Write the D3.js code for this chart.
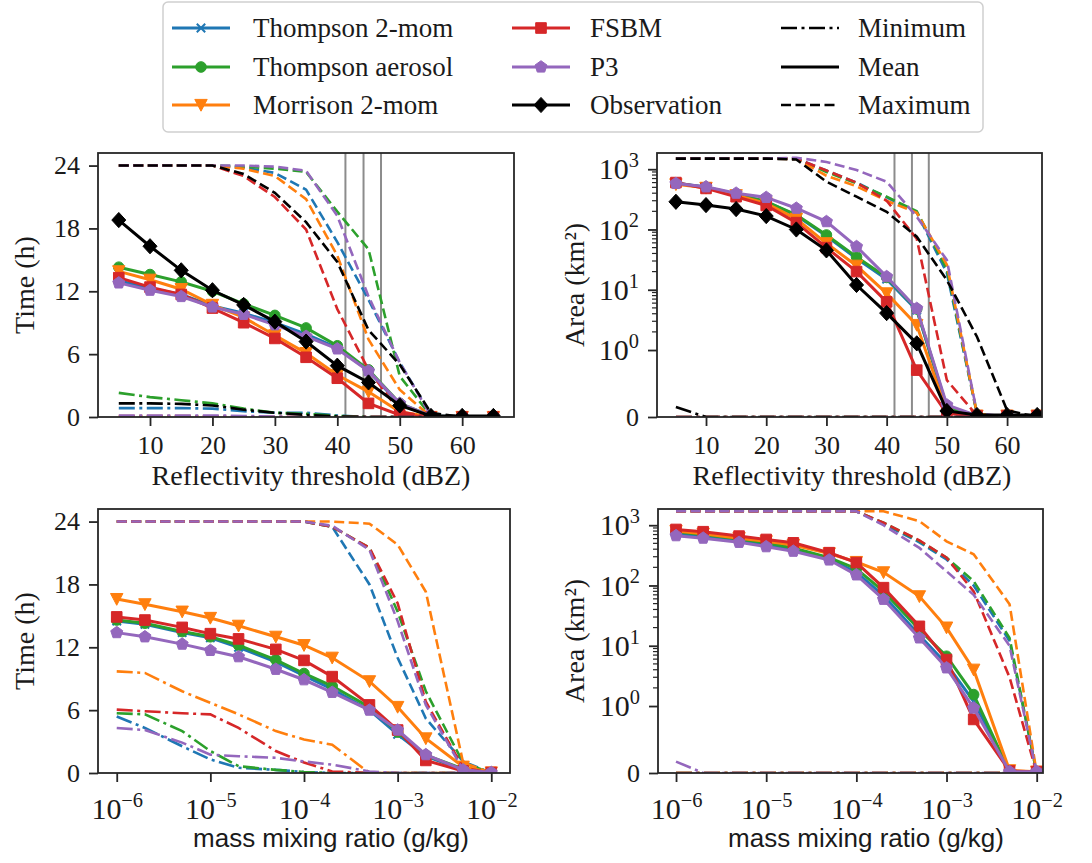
<!DOCTYPE html>
<html>
<head>
<meta charset="utf-8">
<script src="https://cdn.jsdelivr.net/npm/d3@7"></script>
<style>
body { margin: 0; background: #fff; }
svg text { font-family: "Liberation Serif", "Times New Roman", serif; fill: #1a1a1a; }
</style>
</head>
<body>
<svg id="fig" width="1092" height="863"></svg>
<script>
// ---- categories / ticks ----
var dbz = [5, 10, 15, 20, 25, 30, 35, 40, 45, 50, 55, 60, 65];
var mmr = [1e-6, 2e-6, 5e-6, 1e-5, 2e-5, 5e-5, 1e-4, 2e-4, 5e-4, 1e-3, 2e-3, 5e-3, 1e-2];
var modelNames = ["Thompson 2-mom", "Thompson aerosol", "Morrison 2-mom", "FSBM", "P3", "Observation"];
var modelColors = ["#1f77b4", "#2ca02c", "#ff7f0e", "#d62728", "#9467bd", "#000000"];
var modelMarkers = ["x", "circle", "triangleDown", "square", "pentagon", "diamond"];
var statNames = ["Minimum", "Mean", "Maximum"];
var refLines = [41.3, 44.2, 47.0];
var timeTicks = [0, 6, 12, 18, 24];
var areaTicks = [0, 1, 10, 100, 1000];
var dbzTicks = [10, 20, 30, 40, 50, 60];
var mmrTicks = [1e-6, 1e-5, 1e-4, 1e-3, 1e-2];

// ---- time (h) vs reflectivity threshold ----  order: blue, green, orange, red, purple, black
var timeDbzMin = [
  [0.85, 0.85, 0.85, 0.8, 0.55, 0.4, 0.4, 0.15, 0, 0, 0, 0, 0],
  [2.3, 1.9, 1.6, 1.3, 0.8, 0.4, 0.3, 0.1, 0, 0, 0, 0, 0],
  [0.1, 0.1, 0.1, 0.05, 0, 0, 0, 0, 0, 0, 0, 0, 0],
  [0.05, 0.05, 0.05, 0.05, 0, 0, 0, 0, 0, 0, 0, 0, 0],
  [0.15, 0.15, 0.15, 0.15, 0.1, 0.05, 0, 0, 0, 0, 0, 0, 0],
  [1.3, 1.3, 1.25, 1.1, 0.7, 0.4, 0.2, 0.05, 0, 0, 0, 0, 0]
];
var timeDbzMean = [
  [13.0, 12.3, 11.7, 10.6, 9.9, 9.0, 7.9, 6.6, 4.4, 1.2, 0.1, 0, 0],
  [14.3, 13.6, 12.9, 12.0, 10.8, 9.7, 8.5, 6.8, 4.5, 1.3, 0.1, 0, 0],
  [13.9, 13.1, 12.2, 10.7, 9.5, 7.8, 6.1, 4.0, 2.4, 0.5, 0, 0, 0],
  [13.3, 12.4, 11.7, 10.4, 9.0, 7.5, 5.7, 3.7, 1.3, 0.2, 0, 0, 0],
  [12.8, 12.1, 11.5, 10.5, 9.8, 8.8, 7.7, 6.5, 4.4, 1.3, 0.1, 0, 0],
  [18.8, 16.3, 14.0, 12.1, 10.7, 9.1, 7.2, 4.9, 3.3, 1.1, 0.1, 0.1, 0.1]
];
var timeDbzMax = [
  [24, 24, 24, 24, 23.8, 23.3, 21.7, 16.7, 11.2, 5.2, 0.2, 0, 0],
  [24, 24, 24, 24, 23.9, 23.7, 23.4, 19.6, 16.0, 3.9, 0.1, 0, 0],
  [24, 24, 24, 24, 23.7, 23.0, 20.8, 15.4, 7.4, 2.6, 0, 0, 0],
  [24, 24, 24, 24, 23.0, 21.0, 17.9, 10.3, 4.5, 0.5, 0, 0, 0],
  [24, 24, 24, 24, 24, 23.9, 23.5, 19.2, 11.5, 5.2, 0.1, 0, 0],
  [24, 24, 24, 24, 23.2, 21.4, 18.6, 14.8, 8.3, 5.0, 0.4, 0, 0]
];

// ---- area (km2) vs reflectivity threshold ----
var areaDbzMin = [
  [0, 0, 0, 0, 0, 0, 0, 0, 0, 0, 0, 0, 0],
  [0, 0, 0, 0, 0, 0, 0, 0, 0, 0, 0, 0, 0],
  [0, 0, 0, 0, 0, 0, 0, 0, 0, 0, 0, 0, 0],
  [0, 0, 0, 0, 0, 0, 0, 0, 0, 0, 0, 0, 0],
  [0, 0, 0, 0, 0, 0, 0, 0, 0, 0, 0, 0, 0],
  [0.15, 0, 0, 0, 0, 0, 0, 0, 0, 0, 0, 0, 0]
];
var areaDbzMean = [
  [590, 500, 390, 290, 170, 78, 33, 15, 4.6, 0.14, 0.02, 0.02, 0.02],
  [580, 500, 380, 290, 175, 81, 35, 16, 4.8, 0.15, 0.02, 0.02, 0.02],
  [560, 490, 370, 270, 150, 59, 25, 8.7, 2.6, 0.08, 0.02, 0.02, 0.02],
  [600, 480, 350, 250, 130, 50, 20, 6.3, 0.7, 0.05, 0.02, 0.02, 0.02],
  [580, 510, 400, 340, 225, 135, 52, 16.5, 4.9, 0.18, 0.02, 0.02, 0.02],
  [288, 254, 218, 167, 100, 45, 12, 4.1, 1.29, 0.09, 0.03, 0.03, 0.03]
];
var areaDbzMax = [
  [1500, 1500, 1500, 1500, 1500, 950, 600, 340, 190, 19, 0.05, 0, 0],
  [1500, 1500, 1500, 1500, 1500, 900, 580, 350, 200, 22, 0.05, 0, 0],
  [1500, 1500, 1500, 1500, 1480, 780, 520, 300, 190, 26, 0.05, 0, 0],
  [1500, 1500, 1500, 1500, 1500, 950, 600, 300, 70, 0.55, 0.02, 0, 0],
  [1500, 1500, 1500, 1500, 1550, 1320, 970, 620, 163, 31, 0.06, 0, 0],
  [1500, 1500, 1500, 1500, 1450, 620, 350, 196, 76, 14.5, 1.66, 0.1, 0]
];

// ---- time (h) vs mass mixing ratio ----  order: blue, green, orange, red, purple
var timeMmrMin = [
  [5.4, 4.3, 2.55, 1.3, 0.5, 0.3, 0.1, 0, 0, 0, 0, 0, 0],
  [5.7, 5.6, 4.0, 2.1, 0.65, 0.3, 0.1, 0, 0, 0, 0, 0, 0],
  [9.7, 9.55, 7.8, 6.7, 5.6, 4.0, 3.2, 2.7, 0, 0, 0, 0, 0],
  [6.05, 5.9, 5.7, 5.6, 4.3, 2.1, 1.0, 0.15, 0, 0, 0, 0, 0],
  [4.3, 4.1, 2.9, 1.75, 1.6, 1.45, 1.1, 0.8, 0.15, 0, 0, 0, 0]
];
var timeMmrMean = [
  [14.5, 14.2, 13.4, 12.9, 12.0, 10.6, 9.3, 8.0, 6.0, 3.7, 1.6, 0.3, 0.05],
  [14.6, 14.3, 13.5, 13.0, 12.2, 10.8, 9.5, 8.3, 6.3, 3.9, 1.7, 0.4, 0.05],
  [16.6, 16.1, 15.4, 14.8, 14.05, 13.0, 12.2, 11.0, 8.75, 6.3, 3.3, 0.6, 0.05],
  [14.9, 14.6, 13.9, 13.3, 12.8, 11.8, 10.75, 9.2, 6.5, 4.1, 1.2, 0.2, 0.05],
  [13.4, 13.0, 12.3, 11.7, 11.1, 9.9, 8.9, 7.7, 6.0, 4.1, 1.75, 0.3, 0.05]
];
var timeMmrMax = [
  [24, 24, 24, 24, 24, 24, 24, 23.5, 18.0, 11.0, 5.2, 1.1, 0],
  [24, 24, 24, 24, 24, 24, 24, 23.5, 21.5, 15.4, 7.8, 1.0, 0],
  [24, 24, 24, 24, 24, 24, 24, 24, 23.8, 21.8, 17.3, 1.0, 0],
  [24, 24, 24, 24, 24, 24, 24, 23.5, 21.5, 16.2, 6.8, 0.5, 0],
  [24, 24, 24, 24, 24, 24, 24, 23.6, 21.3, 14.5, 6.5, 0.3, 0]
];

// ---- area (km2) vs mass mixing ratio ----
var areaMmrMin = [
  [0, 0, 0, 0, 0, 0, 0, 0, 0, 0, 0, 0, 0],
  [0, 0, 0, 0, 0, 0, 0, 0, 0, 0, 0, 0, 0],
  [0, 0, 0, 0, 0, 0, 0, 0, 0, 0, 0, 0, 0],
  [0, 0, 0, 0, 0, 0, 0, 0, 0, 0, 0, 0, 0],
  [0.17, 0, 0, 0, 0, 0, 0, 0, 0, 0, 0, 0, 0]
];
var areaMmrMean = [
  [720, 650, 550, 470, 400, 275, 165, 68, 15, 5, 1.2, 0.02, 0.02],
  [780, 700, 590, 510, 420, 290, 190, 80, 18.5, 6.7, 1.55, 0.02, 0.02],
  [800, 720, 610, 540, 470, 340, 245, 165, 66, 20, 4.0, 0.04, 0.02],
  [850, 780, 660, 580, 510, 350, 240, 92, 21, 5.9, 0.8, 0.03, 0.02],
  [670, 610, 520, 440, 370, 265, 150, 59, 13.5, 4.3, 0.97, 0.02, 0.02]
];
var areaMmrMax = [
  [1700, 1700, 1700, 1700, 1700, 1700, 1700, 1050, 520, 270, 100, 12, 0],
  [1700, 1700, 1700, 1700, 1700, 1700, 1700, 1100, 550, 290, 118, 13.5, 0],
  [1700, 1700, 1700, 1700, 1700, 1700, 1700, 1700, 1170, 540, 330, 49, 0],
  [1700, 1700, 1700, 1700, 1700, 1700, 1700, 1100, 560, 290, 80, 3.0, 0],
  [1700, 1700, 1700, 1700, 1700, 1700, 1700, 1000, 420, 172, 70, 10, 0]
];

var svg = d3.select("#fig");
var FS = 26;          // plain tick labels
var LEG_FS = 27;      // legend entries
var LABEL_FS = 28;    // serif axis labels
var SANS_FS = 26;     // sans x labels of the bottom row
var MATH_FS = 30;     // 10^n tick labels
var SERIF = "'Liberation Serif', 'Times New Roman', serif";
var SANS = "'Liberation Sans', Arial, sans-serif";

// matplotlib-like symlog (linthresh 1, linscale 1, base 10)
function symT(v) {
  return v <= 1 ? v / 0.9 : 1 / 0.9 + Math.log10(v);
}

function markerPath(type) {
  if (type == "circle") return d3.symbol(d3.symbolCircle, Math.PI * 5.3 * 5.3)();
  if (type == "square") return "M-5.3,-5.3h10.6v10.6h-10.6Z";
  if (type == "triangleDown") return "M-6.2,-5.6L6.2,-5.6L0,6.2Z";
  if (type == "diamond") return "M0,-7.6L7,0L0,7.6L-7,0Z";
  if (type == "x") return "M-4.2,-4.2L4.2,4.2M-4.2,4.2L4.2,-4.2";
  if (type == "pentagon") {
    var pts = d3.range(5).map(function (k) {
      var a = -Math.PI / 2 + k * 2 * Math.PI / 5;
      return [6.3 * Math.cos(a), 6.3 * Math.sin(a)];
    });
    return "M" + pts.join("L") + "Z";
  }
}

function dashFor(stat) {
  if (stat == "Minimum") return "16,4.5,3,4.5";
  if (stat == "Maximum") return "10,4.5";
  return null;
}

function superscriptLabel(sel, base, exp) {
  sel.text(null);
  sel.append("tspan").text(base);
  sel.append("tspan").attr("dy", "-0.6em").attr("font-size", "0.68em").text(exp);
}

function drawPanel(p) {
  var g = svg.append("g");
  var x = p.xLog
    ? d3.scaleLog().domain(p.xDomain).range([p.left, p.right])
    : d3.scaleLinear().domain(p.xDomain).range([p.left, p.right]);
  var yLin = d3.scaleLinear().domain(p.yDomain).range([p.bottom, p.top]);
  var y = p.area ? function (v) { return yLin(symT(v)); } : yLin;

  var clipId = "clip" + p.id;
  svg.append("clipPath").attr("id", clipId)
    .append("rect")
    .attr("x", p.left).attr("y", p.top)
    .attr("width", p.right - p.left).attr("height", p.bottom - p.top);

  var plot = g.append("g").attr("clip-path", "url(#" + clipId + ")");

  if (p.refLines) {
    plot.selectAll(".ref").data(p.refLines).enter().append("line")
      .attr("x1", function (d) { return x(d); }).attr("x2", function (d) { return x(d); })
      .attr("y1", p.top).attr("y2", p.bottom)
      .attr("stroke", "#8c8c8c").attr("stroke-width", 2);
  }

  var line = d3.line()
    .x(function (d, i) { return x(p.xs[i]); })
    .y(function (d) { return y(d); });

  p.mean.forEach(function (meanVals, m) {
    var col = modelColors[m];
    [["Minimum", p.min[m]], ["Mean", meanVals], ["Maximum", p.max[m]]].forEach(function (s) {
      plot.append("path")
        .attr("d", line(s[1]))
        .attr("fill", "none")
        .attr("stroke", col)
        .attr("stroke-width", s[0] == "Mean" ? 3 : 2.6)
        .attr("stroke-dasharray", dashFor(s[0]));
      if (s[0] == "Mean") {
        plot.selectAll(".mk" + m).data(s[1]).enter().append("path")
          .attr("transform", function (d, i) { return "translate(" + x(p.xs[i]) + "," + y(d) + ")"; })
          .attr("d", markerPath(modelMarkers[m]))
          .attr("fill", modelMarkers[m] == "x" ? "none" : col)
          .attr("stroke", col)
          .attr("stroke-width", modelMarkers[m] == "x" ? 2 : 1);
      }
    });
  });

  // frame
  g.append("rect")
    .attr("x", p.left).attr("y", p.top)
    .attr("width", p.right - p.left).attr("height", p.bottom - p.top)
    .attr("fill", "none").attr("stroke", "#262626").attr("stroke-width", 1.8);

  // x axis
  var xAxis = d3.axisBottom(x).tickValues(p.xTicks).tickSize(9).tickSizeOuter(0)
    .tickPadding(p.xLog ? 16 : 10);
  var gx = g.append("g").attr("transform", "translate(0," + p.bottom + ")").call(xAxis)
    .attr("font-family", SERIF);
  gx.select(".domain").remove();
  gx.selectAll(".tick line").attr("stroke", "#262626").attr("stroke-width", 1.8);
  gx.selectAll(".tick text").attr("fill", "#1a1a1a").style("font-family", SERIF)
    .style("font-size", (p.xLog ? MATH_FS : FS) + "px");
  if (p.xLog) {
    gx.selectAll(".tick text").each(function (d) {
      superscriptLabel(d3.select(this), "10", "\u2212" + Math.abs(Math.round(Math.log10(d))));
    });
  }

  // y axis
  var yAxis = d3.axisLeft(yLin).tickSize(9).tickSizeOuter(0).tickPadding(9);
  if (p.area) {
    yAxis.tickValues(areaTicks.map(symT));
  } else {
    yAxis.tickValues(timeTicks);
  }
  var gy = g.append("g").attr("transform", "translate(" + p.left + ",0)").call(yAxis)
    .attr("font-family", SERIF);
  gy.select(".domain").remove();
  gy.selectAll(".tick line").attr("stroke", "#262626").attr("stroke-width", 1.8);
  gy.selectAll(".tick text").attr("fill", "#1a1a1a").style("font-family", SERIF)
    .style("font-size", (p.area ? MATH_FS : FS) + "px");
  if (p.area) {
    gy.selectAll(".tick text").each(function (d, i) {
      var v = areaTicks[i];
      if (v == 0) { d3.select(this).style("font-size", FS + "px").text("0"); return; }
      superscriptLabel(d3.select(this), "10", String(Math.round(Math.log10(v))));
    });
    // minor ticks 2..9 x 10^k
    var minors = [];
    [1, 10, 100, 1000].forEach(function (b) {
      d3.range(2, 10).forEach(function (k) {
        if (symT(k * b) <= p.yDomain[1]) minors.push(symT(k * b));
      });
    });
    gy.selectAll(".minor").data(minors).enter().append("line")
      .attr("x1", 0).attr("x2", -5)
      .attr("y1", function (d) { return yLin(d); }).attr("y2", function (d) { return yLin(d); })
      .attr("stroke", "#262626").attr("stroke-width", 1.2);
  }

  // labels
  g.append("text")
    .attr("transform", "translate(" + p.ylabelX + "," + ((p.top + p.bottom) / 2) + ") rotate(-90)")
    .attr("text-anchor", "middle")
    .attr("dominant-baseline", "middle")
    .style("font-size", LABEL_FS + "px")
    .text(p.ylabel);

  g.append("text")
    .attr("x", p.xlabelX)
    .attr("y", p.xlabelY)
    .attr("text-anchor", "middle")
    .style("font-size", (p.xlabelSans ? SANS_FS : LABEL_FS) + "px")
    .style("font-family", p.xlabelSans ? SANS : SERIF)
    .text(p.xlabel);
}

drawPanel({
  id: "tl", left: 98, right: 514, top: 153, bottom: 417,
  xDomain: [1.67, 68.3], yDomain: [0, 25.2], xs: dbz, xTicks: dbzTicks,
  min: timeDbzMin, mean: timeDbzMean, max: timeDbzMax, refLines: refLines,
  ylabel: "Time (h)", ylabelX: 28,
  xlabel: "Reflectivity threshold (dBZ)", xlabelX: 311, xlabelY: 485
});

drawPanel({
  id: "tr", left: 657, right: 1042, top: 153, bottom: 417, area: true,
  xDomain: [1.86, 65.8], yDomain: [0, 4.38], xs: dbz, xTicks: dbzTicks,
  min: areaDbzMin, mean: areaDbzMean, max: areaDbzMax, refLines: refLines,
  ylabel: "Area (km\u00b2)", ylabelX: 578,
  xlabel: "Reflectivity threshold (dBZ)", xlabelX: 852, xlabelY: 485
});

drawPanel({
  id: "bl", left: 98, right: 510, top: 509, bottom: 773, xLog: true,
  xDomain: [Math.pow(10, -6.2), Math.pow(10, -1.8)], yDomain: [0, 25.2], xs: mmr, xTicks: mmrTicks,
  min: timeMmrMin, mean: timeMmrMean, max: timeMmrMax,
  ylabel: "Time (h)", ylabelX: 28,
  xlabel: "mass mixing ratio (g/kg)", xlabelX: 331, xlabelY: 847, xlabelSans: true
});

drawPanel({
  id: "br", left: 658, right: 1043, top: 509, bottom: 773, xLog: true, area: true,
  xDomain: [Math.pow(10, -6.2), Math.pow(10, -1.93)], yDomain: [0, 4.38], xs: mmr, xTicks: mmrTicks,
  min: areaMmrMin, mean: areaMmrMean, max: areaMmrMax,
  ylabel: "Area (km\u00b2)", ylabelX: 578,
  xlabel: "mass mixing ratio (g/kg)", xlabelX: 866, xlabelY: 847, xlabelSans: true
});

// ---- legend ----
var legend = svg.append("g");
legend.append("rect")
  .attr("x", 163).attr("y", 2).attr("width", 820).attr("height", 130)
  .attr("rx", 5).attr("fill", "#fff").attr("stroke", "#cfcfcf").attr("stroke-width", 1.5);

var rowY = [28, 67, 105];
var cols = [{ hx: 172, tx: 253 }, { hx: 512, tx: 590 }, { hx: 781, tx: 858 }];
var handleLen = 58;

modelNames.forEach(function (name, m) {
  var c = cols[Math.floor(m / 3)], yy = rowY[m % 3];
  legend.append("line")
    .attr("x1", c.hx).attr("x2", c.hx + handleLen).attr("y1", yy).attr("y2", yy)
    .attr("stroke", modelColors[m]).attr("stroke-width", 3);
  legend.append("path")
    .attr("transform", "translate(" + (c.hx + handleLen / 2) + "," + yy + ")")
    .attr("d", markerPath(modelMarkers[m]))
    .attr("fill", modelMarkers[m] == "x" ? "none" : modelColors[m])
    .attr("stroke", modelColors[m])
    .attr("stroke-width", modelMarkers[m] == "x" ? 2 : 1);
  legend.append("text")
    .attr("x", c.tx).attr("y", yy).attr("dy", "0.35em")
    .style("font-size", LEG_FS + "px").text(name);
});

statNames.forEach(function (name, k) {
  var c = cols[2], yy = rowY[k];
  legend.append("line")
    .attr("x1", c.hx).attr("x2", c.hx + handleLen).attr("y1", yy).attr("y2", yy)
    .attr("stroke", "#000").attr("stroke-width", k == 1 ? 3 : 2.6)
    .attr("stroke-dasharray", dashFor(name));
  legend.append("text")
    .attr("x", c.tx).attr("y", yy).attr("dy", "0.35em")
    .style("font-size", LEG_FS + "px").text(name);
});
</script>
</body>
</html>
